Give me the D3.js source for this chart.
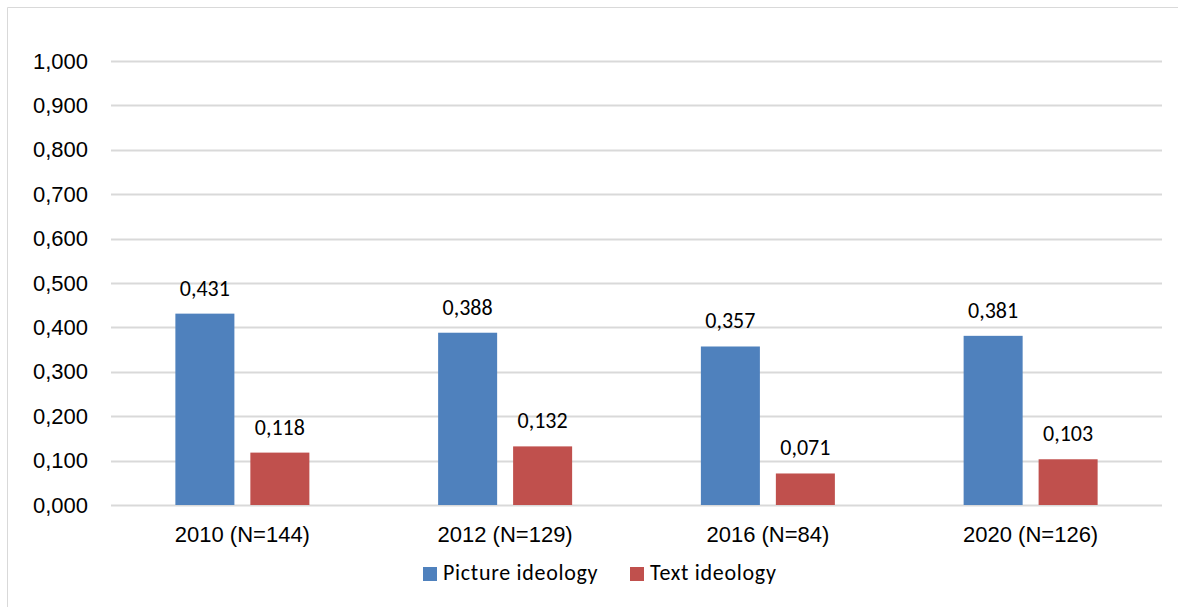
<!DOCTYPE html>
<html>
<head>
<meta charset="utf-8">
<script src="https://cdn.jsdelivr.net/npm/d3@7"></script>
<style>
  html, body { margin: 0; padding: 0; background: #fff; }
  svg { display: block; font-family: Carlito, Lato, "Open Sans", sans-serif; }
</style>
</head>
<body>
<svg id="chart" width="1178" height="607"></svg>
<script>
// Mean ideology scores per election year
const categories = ["2010 (N=144)", "2012 (N=129)", "2016 (N=84)", "2020 (N=126)"];
const seriesNames = ["Picture ideology", "Text ideology"];
const pictureValues = [0.431, 0.388, 0.357, 0.381];
const textValues = [0.118, 0.132, 0.071, 0.103];
const yTicks = [0, 0.1, 0.2, 0.3, 0.4, 0.5, 0.6, 0.7, 0.8, 0.9, 1.0];
const colors = ["#4F81BD", "#C0504D"];

const W = 1178, H = 607;
const plot = { left: 111, right: 1162, top: 61, bottom: 505 };
const fontSize = 22;

const svg = d3.select("#chart");

// outer chart frame (left and top edges visible)
const frame = svg.append("g").attr("stroke", "#D9D9D9").attr("stroke-width", 1);
frame.append("line").attr("x1", 7.5).attr("x2", 7.5).attr("y1", 7.5).attr("y2", H);
frame.append("line").attr("x1", 7.5).attr("x2", W).attr("y1", 7.5).attr("y2", 7.5);

const fmt = v => d3.format(".3f")(v).replace(".", ",");

const y = d3.scaleLinear().domain([0, 1]).range([plot.bottom, plot.top]);
const x0 = d3.scaleBand().domain(categories).range([plot.left, plot.right]).paddingInner(0).paddingOuter(0);
const innerWidth = 134; // two bars plus the gap between them
const x1 = d3.scaleBand().domain(seriesNames).range([0, innerWidth]).paddingInner(0.213).paddingOuter(0);

// gridlines
svg.append("g").selectAll("line").data(yTicks).join("line")
  .attr("x1", plot.left).attr("x2", plot.right)
  .attr("y1", d => Math.round(y(d)) + 0.5).attr("y2", d => Math.round(y(d)) + 0.5)
  .attr("stroke", "#D9D9D9").attr("stroke-width", 2);

// y axis labels
const yAxis = d3.axisLeft(y).tickValues(yTicks).tickFormat(fmt).tickSize(0).tickPadding(23);
const yg = svg.append("g").attr("transform", `translate(${plot.left},0)`).call(yAxis);
yg.select(".domain").remove();
yg.selectAll("text").attr("font-size", fontSize).attr("font-family", null).attr("fill", "#000");

// x axis labels
const xAxis = d3.axisBottom(x0).tickSize(0).tickPadding(21);
const xg = svg.append("g").attr("transform", `translate(0,${plot.bottom})`).call(xAxis);
xg.select(".domain").remove();
xg.selectAll("text").attr("font-size", fontSize).attr("font-family", null).attr("fill", "#000");

const rows = categories.map((c, i) => ({ cat: c, values: [pictureValues[i], textValues[i]] }));

const groups = svg.append("g").selectAll("g").data(rows).join("g")
  .attr("transform", d => `translate(${x0(d.cat) + (x0.bandwidth() - innerWidth) / 2},0)`);

groups.selectAll("rect").data(d => d.values.map((v, j) => ({ name: seriesNames[j], v, j }))).join("rect")
  .attr("x", d => x1(d.name))
  .attr("y", d => y(d.v))
  .attr("width", x1.bandwidth())
  .attr("height", d => y(0) - y(d.v))
  .attr("fill", d => colors[d.j]);

groups.selectAll("text").data(d => d.values.map((v, j) => ({ name: seriesNames[j], v, j }))).join("text")
  .attr("x", d => x1(d.name) + x1.bandwidth() / 2)
  .attr("y", d => y(d.v) - 18)
  .attr("text-anchor", "middle")
  .attr("font-size", fontSize)
  .attr("fill", "#000")
  .text(d => fmt(d.v));

// legend
const legend = svg.append("g");
const legendX = [423, 630];
seriesNames.forEach((name, i) => {
  const g = legend.append("g").attr("transform", `translate(${legendX[i]},567)`);
  g.append("rect").attr("width", 14).attr("height", 14).attr("fill", colors[i]);
  g.append("text").attr("x", 20).attr("y", 13).attr("font-size", fontSize)
    .attr("letter-spacing", 0.7).attr("fill", "#000").text(name);
});
</script>
</body>
</html>
